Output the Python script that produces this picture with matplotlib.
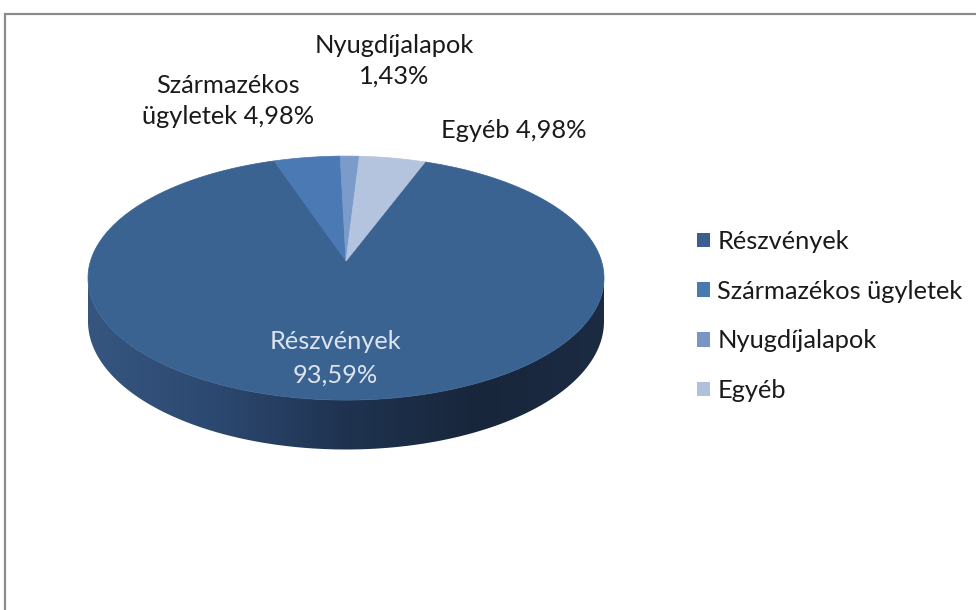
import numpy as np
import matplotlib
matplotlib.use("Agg")
import matplotlib.pyplot as plt
from matplotlib.patches import Polygon, Rectangle, Patch
from matplotlib.colors import LinearSegmentedColormap

categories = ["Részvények", "Származékos ügyletek", "Nyugdíjalapok", "Egyéb"]
values = [93.59, 4.98, 1.43, 4.98]
value_labels = ["93,59%", "4,98%", "1,43%", "4,98%"]
colors = ["#3a6391", "#4a79b3", "#7b9bca", "#b4c4de"]

plt.rcParams['font.family'] = ['Lato', 'DejaVu Sans']

W, H = 976, 610
fig = plt.figure(figsize=(W / 100, H / 100), dpi=100)
ax = fig.add_axes([0, 0, 1, 1])
ax.set_xlim(0, W)
ax.set_ylim(H, 0)
ax.axis("off")

# frame
fig.patches.append(Rectangle((5 / W, -0.1), 1.2, (H - 14) / H + 0.1, transform=fig.transFigure,
                             fill=False, edgecolor="#8c8c8c", lw=1.6))

# perspective pie geometry
cx = 346
rx, ry = 258, 122
k = 0.14            # perspective strength
apex_y = 261
Sx = rx * np.sqrt(1 - k ** 2)
Sy = ry * (1 - k ** 2)
D = 42.5            # thickness
start = 20.5        # degrees clockwise from 12 o'clock where first slice starts

vals = np.array(values, dtype=float)
angles = np.concatenate([[0], np.cumsum(vals / vals.sum() * 360.0)]) + start


def pt(phi_deg, down=0.0):
    t = np.radians(phi_deg)
    X, Z = np.sin(t), np.cos(t)
    w = 1 + k * Z
    return cx + Sx * X / w, apex_y - Sy * Z / w + D * down / w


# side (front half between the silhouette points)
phi0 = np.degrees(np.arccos(-k))
th = np.linspace(phi0, 360 - phi0, 240)
top_pts = [pt(t) for t in th]
bot_pts = [pt(t, 1.0) for t in th[::-1]]
side = Polygon(top_pts + bot_pts, closed=True, facecolor="none", edgecolor="none")
ax.add_patch(side)
grad = LinearSegmentedColormap.from_list("side", ["#365680", "#2c4870", "#1f3350", "#18263b", "#1b2b42"])
img = ax.imshow(np.linspace(0, 1, 256)[None, :], cmap=grad, aspect="auto",
                extent=[cx - rx - 2, cx + rx + 2, apex_y + 2 * ry, apex_y - 10], zorder=1)
img.set_clip_path(side)

# top faces
for i, c in enumerate(colors):
    th = np.linspace(angles[i], angles[i + 1], max(3, int((angles[i + 1] - angles[i]) * 2)))
    poly = [(cx, apex_y)] + [pt(t) for t in th]
    ax.add_patch(Polygon(poly, closed=True, facecolor=c, edgecolor=c, lw=0.5, zorder=2))

fs = 18.3
ax.text(335, 358, categories[0] + "\n" + value_labels[0], color="#dce4ef", fontsize=fs,
        ha="center", va="center", linespacing=1.55, zorder=3)
ax.text(228, 101, "Származékos\nügyletek " + value_labels[1], color="#1a1a1a", fontsize=fs,
        ha="center", va="center", linespacing=1.38)
ax.text(394, 61, categories[2] + "\n" + value_labels[2], color="#1a1a1a", fontsize=fs,
        ha="center", va="center", linespacing=1.38)
ax.text(514, 130, categories[3] + " " + value_labels[3], color="#1a1a1a", fontsize=fs,
        ha="center", va="center")

legend_colors = ["#3a5f8f", "#4a78b0", "#7895c5", "#b2c1db"]
handles = [Patch(facecolor=c, edgecolor="none") for c in legend_colors]
fig.legend(handles, categories, loc="center left", bbox_to_anchor=(697 / W, 1 - 316 / H),
           frameon=False, fontsize=fs, handlelength=0.5, handleheight=0.5,
           handletextpad=0.3, labelspacing=1.05, borderpad=0, borderaxespad=0,
           labelcolor="#1a1a1a")

fig.savefig("out.png", dpi=100)
